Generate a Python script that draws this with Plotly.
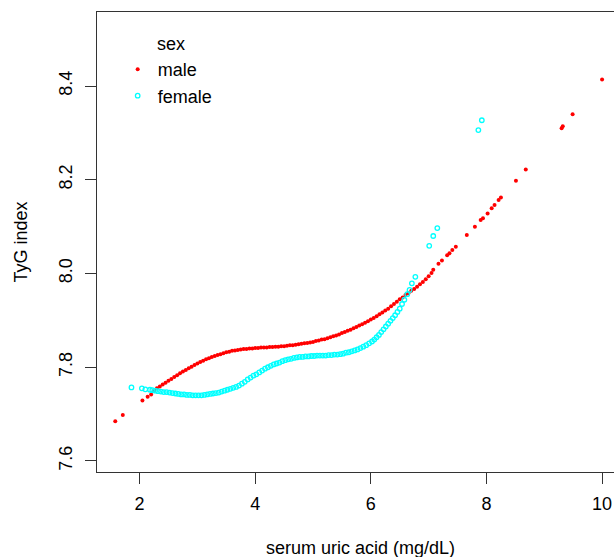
import plotly.graph_objects as go

# ---- data ----
male_x = [1.58, 1.71, 2.05, 2.14, 2.20,
          2.25, 2.30, 2.35, 2.40, 2.45, 2.50, 2.55, 2.60, 2.65, 2.70,
          2.75, 2.80, 2.85, 2.90, 2.95, 3.00, 3.05, 3.10, 3.15, 3.20,
          3.25, 3.30, 3.35, 3.40, 3.45, 3.50, 3.55, 3.60, 3.65, 3.70,
          3.75, 3.80, 3.85, 3.90, 3.95, 4.00, 4.05, 4.10, 4.15, 4.20,
          4.25, 4.30, 4.35, 4.40, 4.45, 4.50, 4.55, 4.60, 4.65, 4.70,
          4.75, 4.80, 4.85, 4.90, 4.95, 5.00, 5.05, 5.10, 5.15, 5.20,
          5.25, 5.30, 5.35, 5.40, 5.45, 5.50, 5.55, 5.60, 5.65, 5.70,
          5.75, 5.80, 5.85, 5.90, 5.95, 6.00, 6.05, 6.10, 6.15, 6.20,
          6.25, 6.30, 6.35, 6.40, 6.45, 6.50, 6.55, 6.60, 6.65, 6.70,
          6.75, 6.80, 6.85, 6.90, 6.95, 7.00, 7.05, 7.08,
          7.17, 7.23, 7.32, 7.36, 7.41, 7.47, 7.66, 7.80, 7.90, 7.94,
          8.02, 8.09, 8.14, 8.21, 8.25, 8.51, 8.68, 9.30, 9.32, 9.49, 10.0]
male_y = [7.685, 7.698, 7.729, 7.737, 7.742,
          7.750, 7.755, 7.759, 7.763, 7.767, 7.771, 7.775, 7.779, 7.783, 7.787,
          7.791, 7.794, 7.798, 7.801, 7.805, 7.808, 7.811, 7.814, 7.817, 7.819,
          7.822, 7.824, 7.826, 7.828, 7.830, 7.832, 7.833, 7.835, 7.836, 7.837,
          7.838, 7.839, 7.839, 7.840, 7.840, 7.841, 7.841, 7.842, 7.842, 7.842,
          7.843, 7.843, 7.844, 7.844, 7.845, 7.845, 7.846, 7.847, 7.847, 7.848,
          7.849, 7.850, 7.851, 7.852, 7.853, 7.854, 7.856, 7.857, 7.859, 7.860,
          7.862, 7.864, 7.866, 7.868, 7.870, 7.873, 7.875, 7.878, 7.880, 7.883,
          7.886, 7.889, 7.892, 7.895, 7.898, 7.902, 7.905, 7.909, 7.913, 7.917,
          7.921, 7.925, 7.930, 7.935, 7.940, 7.945, 7.949, 7.954, 7.958, 7.963,
          7.967, 7.972, 7.977, 7.982, 7.988, 7.994, 8.001, 8.008,
          8.021, 8.028, 8.039, 8.043, 8.050, 8.057, 8.082, 8.100, 8.114, 8.118,
          8.128, 8.139, 8.146, 8.157, 8.162, 8.198, 8.222, 8.310, 8.314, 8.340, 8.414]

female_x = [1.86, 2.04, 2.10, 2.18,
            2.22, 2.27, 2.32, 2.37, 2.42, 2.47, 2.52, 2.57, 2.62, 2.67,
            2.72, 2.77, 2.82, 2.87, 2.92, 2.97, 3.02, 3.07, 3.12, 3.17,
            3.22, 3.27, 3.32, 3.37, 3.42, 3.47, 3.52, 3.57, 3.62, 3.67,
            3.72, 3.77, 3.82, 3.87, 3.92, 3.97, 4.02, 4.07, 4.12, 4.17,
            4.22, 4.27, 4.32, 4.37, 4.42, 4.47, 4.52, 4.57, 4.62, 4.67,
            4.72, 4.77, 4.82, 4.87, 4.92, 4.97, 5.02, 5.07, 5.12, 5.17,
            5.22, 5.27, 5.32, 5.37, 5.42, 5.47, 5.52, 5.57, 5.62, 5.67,
            5.72, 5.77, 5.82, 5.87, 5.92, 5.97, 6.02, 6.06, 6.10, 6.14,
            6.18, 6.22, 6.26, 6.30, 6.34, 6.38, 6.42, 6.46, 6.50, 6.54,
            6.58, 6.63, 6.67, 6.71, 6.77,
            7.01, 7.08, 7.15, 7.86, 7.92]
female_y = [7.757, 7.755, 7.753, 7.752,
            7.751, 7.750, 7.749, 7.748, 7.747, 7.747, 7.746, 7.745, 7.744, 7.743,
            7.742, 7.742, 7.741, 7.741, 7.740, 7.740, 7.740, 7.740, 7.741, 7.742,
            7.743, 7.744, 7.745, 7.746, 7.748, 7.750, 7.752, 7.754, 7.756, 7.758,
            7.761, 7.765, 7.769, 7.774, 7.778, 7.782, 7.785, 7.789, 7.793, 7.797,
            7.800, 7.803, 7.806, 7.808, 7.810, 7.813, 7.815, 7.817, 7.818, 7.820,
            7.821, 7.822, 7.822, 7.823, 7.823, 7.824, 7.824, 7.825, 7.825, 7.825,
            7.825, 7.826, 7.826, 7.827, 7.827, 7.828, 7.829, 7.831, 7.832, 7.834,
            7.836, 7.838, 7.841, 7.844, 7.847, 7.851, 7.855, 7.859, 7.864, 7.869,
            7.875, 7.881, 7.887, 7.893, 7.899, 7.905, 7.911, 7.918, 7.925, 7.935,
            7.944, 7.956, 7.965, 7.979, 7.993,
            8.059, 8.080, 8.097, 8.306, 8.327]

x_ticks = [2, 4, 6, 8, 10]
y_ticks = [7.6, 7.8, 8.0, 8.2, 8.4]
y_tick_labels = ["7.6", "7.8", "8.0", "8.2", "8.4"]

FONT = "Liberation Sans, Arial, Helvetica, sans-serif"

fig = go.Figure()
fig.add_trace(go.Scatter(
    x=male_x, y=male_y, mode="markers", name="male",
    marker=dict(symbol="circle", size=4, color="#FF0000", line=dict(width=0)),
    cliponaxis=False,
))
fig.add_trace(go.Scatter(
    x=female_x, y=female_y, mode="markers", name="female",
    marker=dict(symbol="circle-open", size=4.5, color="#00FFFF",
                line=dict(width=1.3, color="#00FFFF")),
))

fig.update_layout(
    width=614, height=557,
    margin=dict(l=97, r=0, t=12, b=85, autoexpand=False),
    paper_bgcolor="white", plot_bgcolor="white",
    font=dict(family=FONT, size=18, color="black"),
    showlegend=True,
    legend=dict(x=0.04, y=0.915, xanchor="left", yanchor="top",
                bgcolor="rgba(0,0,0,0)", borderwidth=0,
                font=dict(size=18), itemsizing="trace",
                tracegroupgap=0),
    annotations=[
        dict(text="sex", xref="paper", yref="paper",
             x=0.113, y=0.930, xanchor="left", yanchor="middle",
             showarrow=False, font=dict(size=18)),
        dict(text="serum uric acid (mg/dL)", xref="paper", yref="paper",
             x=0.509, y=-0.165, xanchor="center", yanchor="middle",
             showarrow=False, font=dict(size=18)),
    ],
)
fig.update_xaxes(
    range=[1.264, 10.206], tickvals=x_ticks, ticks="outside", ticklen=11,
    tickwidth=1, tickcolor="#333333", showline=True, linecolor="#333333",
    linewidth=1, mirror=True, showgrid=False, zeroline=False,
    ticklabelstandoff=4, automargin=False,
)
fig.update_yaxes(
    range=[7.5765, 8.558], tickvals=y_ticks, ticktext=y_tick_labels,
    ticks="outside", ticklen=11, tickwidth=1, tickcolor="#333333",
    showline=True, linecolor="#333333", linewidth=1, mirror=False,
    showgrid=False, zeroline=False, tickangle=-90,
    ticklabelstandoff=6, automargin=False,
    title=dict(text="TyG index", standoff=23, font=dict(size=18)),
)

fig.write_html(
    "out.html",
    config={"displayModeBar": False},
    post_script="document.body.style.margin='0';"
                "document.body.style.overflow='hidden';",
)
